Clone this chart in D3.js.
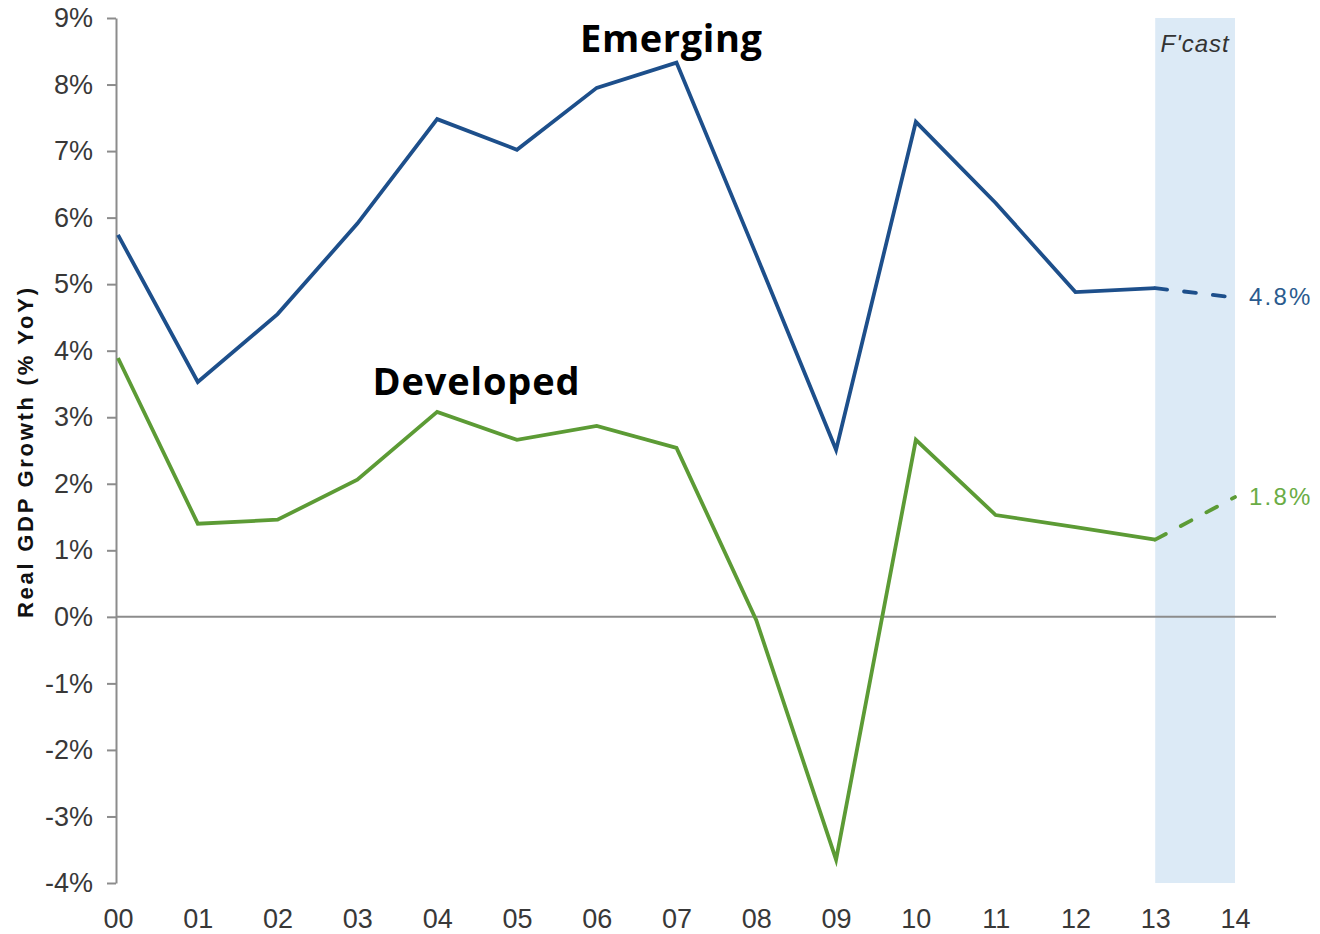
<!DOCTYPE html>
<html>
<head>
<meta charset="utf-8">
<script src="https://cdn.jsdelivr.net/npm/d3@7/dist/d3.min.js"></script>
<style>
  html, body { margin: 0; padding: 0; background: #fff; }
  svg { display: block; }
</style>
</head>
<body>
<svg id="chart" width="1320" height="934"></svg>
<script>
// Real GDP growth, % YoY, 2000-2014 (2014 is a forecast)
const years = ["00","01","02","03","04","05","06","07","08","09","10","11","12","13","14"];
const emerging  = [5.74, 3.53, 4.55, 5.91, 7.48, 7.02, 7.95, 8.33, 5.44, 2.51, 7.44, 6.22, 4.88, 4.94, 4.8];
const developed = [3.89, 1.40, 1.46, 2.06, 3.08, 2.66, 2.87, 2.54, -0.05, -3.65, 2.66, 1.53, 1.35, 1.16, 1.8];
const yTicks = [-4, -3, -2, -1, 0, 1, 2, 3, 4, 5, 6, 7, 8, 9];
const forecastFrom = "13";
const forecastTo = "14";

const svg = d3.select("#chart");
const plotLeft = 116, plotRight = 1276, plotTop = 18, plotBottom = 883;

const x = d3.scalePoint().domain(years).range([118, 1235]);
const y = d3.scaleLinear().domain([-4, 9]).range([plotBottom, plotTop]);

// Forecast band
svg.append("rect")
  .attr("x", x(forecastFrom))
  .attr("y", plotTop)
  .attr("width", x(forecastTo) - x(forecastFrom))
  .attr("height", plotBottom - plotTop)
  .attr("fill", "#dceaf6");

svg.append("text")
  .attr("x", (x(forecastFrom) + x(forecastTo)) / 2)
  .attr("y", 52)
  .attr("text-anchor", "middle")
  .attr("font-family", "Liberation Sans, Arial, sans-serif")
  .attr("font-style", "italic")
  .attr("font-size", 24)
  .attr("letter-spacing", 1)
  .attr("fill", "#333")
  .text("F'cast");

// Y axis
const yAxis = d3.axisLeft(y)
  .tickValues(yTicks)
  .tickSize(9)
  .tickSizeOuter(0)
  .tickPadding(14)
  .tickFormat(d => d + "%");

const gy = svg.append("g")
  .attr("transform", `translate(${plotLeft},0)`)
  .call(yAxis);
gy.select(".domain").attr("stroke", "#8c8c8c").attr("stroke-width", 2);
gy.selectAll(".tick line").attr("stroke", "#8c8c8c").attr("stroke-width", 2);
gy.selectAll(".tick text")
  .attr("font-family", "Liberation Sans, Arial, sans-serif")
  .attr("font-size", 27)
  .attr("fill", "#383838");

// X axis (labels only)
const xAxis = d3.axisBottom(x).tickSize(0).tickPadding(26);
const gx = svg.append("g")
  .attr("transform", `translate(0,${plotBottom})`)
  .call(xAxis);
gx.select(".domain").remove();
gx.selectAll(".tick text")
  .attr("font-family", "Liberation Sans, Arial, sans-serif")
  .attr("font-size", 27)
  .attr("fill", "#383838");

// Zero line
svg.append("line")
  .attr("x1", plotLeft).attr("x2", plotRight)
  .attr("y1", y(0)).attr("y2", y(0))
  .attr("stroke", "#8c8c8c")
  .attr("stroke-width", 2);

// Y axis title
svg.append("text")
  .attr("transform", `translate(33,${(288 + 618) / 2}) rotate(-90)`)
  .attr("text-anchor", "middle")
  .attr("font-family", "Liberation Sans, Arial, sans-serif")
  .attr("font-weight", "bold")
  .attr("font-size", 22)
  .attr("textLength", 330)
  .attr("lengthAdjust", "spacing")
  .attr("fill", "#111")
  .text("Real GDP Growth (% YoY)");

// Series
const series = [
  { name: "Emerging",  values: emerging,  color: "#1d4f8b", labelColor: "#2b5b8e" },
  { name: "Developed", values: developed, color: "#5c9b35", labelColor: "#6aac45" }
];

const line = d3.line()
  .x(d => x(d.year))
  .y(d => y(d.value));

const fIdx = years.indexOf(forecastFrom);

series.forEach(s => {
  const pts = years.map((yr, i) => ({ year: yr, value: s.values[i] }));
  svg.append("path")
    .datum(pts.slice(0, fIdx + 1))
    .attr("d", line)
    .attr("fill", "none")
    .attr("stroke", s.color)
    .attr("stroke-width", 3.8)
    .attr("stroke-linejoin", "miter");
  svg.append("path")
    .datum(pts.slice(fIdx))
    .attr("d", line)
    .attr("fill", "none")
    .attr("stroke", s.color)
    .attr("stroke-width", 3.8)
    .attr("stroke-linecap", "round")
    .attr("stroke-dasharray", "12,17");
  const last = pts[pts.length - 1];
  svg.append("text")
    .attr("x", x(last.year) + 14)
    .attr("y", y(last.value) + 8)
    .attr("font-family", "Liberation Sans, Arial, sans-serif")
    .attr("font-size", 24)
    .attr("letter-spacing", 2.2)
    .attr("fill", s.labelColor)
    .text(last.value.toFixed(1) + "%");
});

// Series names
svg.append("text")
  .attr("x", 671).attr("y", 52)
  .attr("text-anchor", "middle")
  .attr("font-family", "Open Sans, sans-serif")
  .attr("font-weight", "bold")
  .attr("font-size", 38)
  .attr("textLength", 182)
  .attr("fill", "#000")
  .text("Emerging");

svg.append("text")
  .attr("x", 476).attr("y", 395)
  .attr("text-anchor", "middle")
  .attr("font-family", "Open Sans, sans-serif")
  .attr("font-weight", "bold")
  .attr("font-size", 38)
  .attr("textLength", 207)
  .attr("fill", "#000")
  .text("Developed");
</script>
</body>
</html>
